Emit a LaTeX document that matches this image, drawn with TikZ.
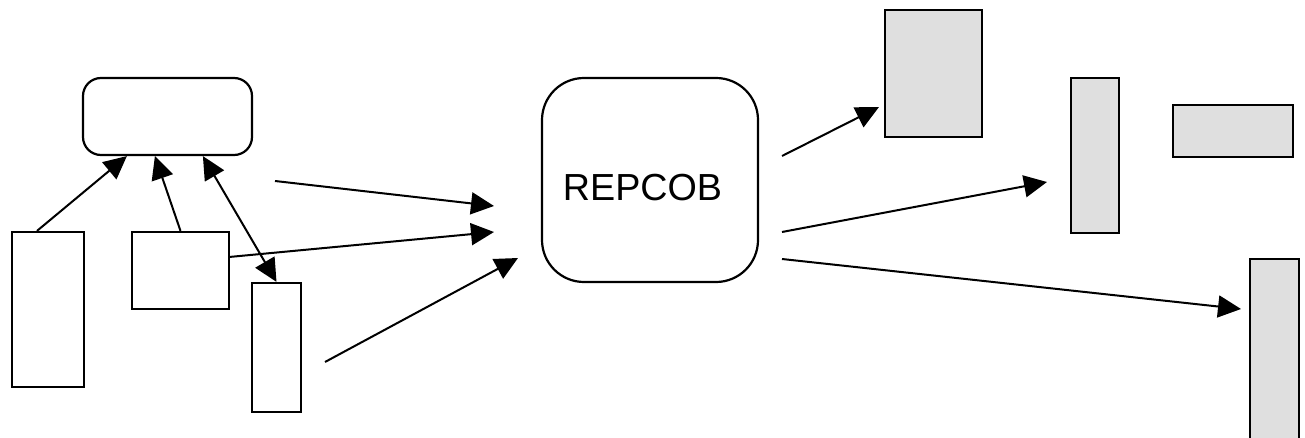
\documentclass[tikz,border=0pt]{standalone}
\usepackage{fontspec}
\setmainfont{Liberation Sans}
\usetikzlibrary{arrows.meta}

\begin{document}
\begin{tikzpicture}[x=1pt,y=-1pt,
    box/.style={draw, line width=2.2pt, inner sep=0pt},
    outbox/.style={box, fill=gray!25},
    link/.style={line width=2pt, -{Triangle[length=23pt,width=22pt]}},
    twolink/.style={line width=2pt, {Triangle[length=23pt,width=22pt]}-{Triangle[length=23pt,width=22pt]}}]
    \useasboundingbox (0,0) rectangle (1305,438);
    % left side
    \node [box, rounded corners=18pt, minimum width=169pt, minimum height=77pt] (menu) at (167.5,116.5) {};
    \node [box, minimum width=72pt, minimum height=155pt] (inA) at (48,309.5) {};
    \node [box, minimum width=97pt, minimum height=77pt] (inB) at (180.5,270.5) {};
    \node [box, minimum width=49pt, minimum height=129pt] (inC) at (276.5,347.5) {};
    % middle
    \node [box, rounded corners=42pt, minimum width=216pt, minimum height=204pt,
        text height=41pt, text depth=0pt, font=\fontsize{37.7}{45}\selectfont] (rep) at (650,180) {REPCOB\hspace*{15pt}};
    % right side
    \node [outbox, minimum width=97pt, minimum height=127pt] (outA) at (933.5,73.5) {};
    \node [outbox, minimum width=48pt, minimum height=155pt] (outB) at (1095,155.5) {};
    \node [outbox, minimum width=120pt, minimum height=52pt] (outC) at (1233,131) {};
    \node [outbox, minimum width=49pt, minimum height=190pt] (outD) at (1274.5,354) {};
    % free ends
    \coordinate (p1) at (275,181);
    \coordinate (p2) at (494,206);
    \coordinate (p3) at (494,232);
    \coordinate (p4) at (325,362);
    \coordinate (p5) at (518,258);
    \coordinate (q1) at (782,156);
    \coordinate (q2) at (879,107);
    \coordinate (q3) at (782,232);
    \coordinate (q4) at (1047,182);
    \coordinate (q5) at (782,259);
    \coordinate (q6) at (1241,309);
    % arrows
    \draw [link] ([xshift=-11pt]inA.north) -- ([xshift=45pt]menu.south west);
    \draw [link] (inB.north) -- ([xshift=73pt]menu.south west);
    \draw [twolink] ([xshift=121pt]menu.south west) -- (inC.north);
    \draw [link] (p1) -- (p2);
    \draw [link] ([yshift=-26pt]inB.north east) -- (p3);
    \draw [link] (p4) -- (p5);
    \draw [link] (q1) -- (q2);
    \draw [link] (q3) -- (q4);
    \draw [link] (q5) -- (q6);
\end{tikzpicture}
\end{document}
